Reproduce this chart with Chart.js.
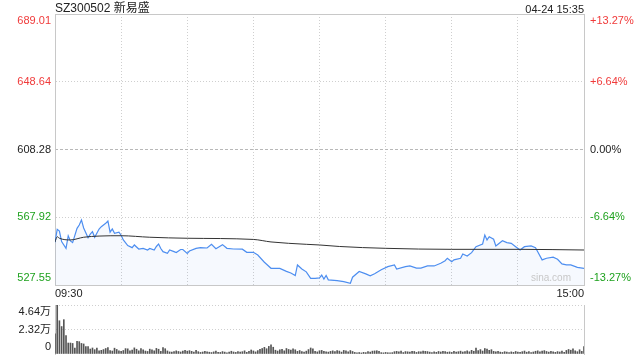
<!DOCTYPE html>
<html><head><meta charset="utf-8">
<script src="https://cdn.jsdelivr.net/npm/chart.js@4/dist/chart.umd.min.js"></script>
<style>
html,body{margin:0;padding:0;background:#fff;width:640px;height:360px;overflow:hidden;font-family:'Liberation Sans','Noto Sans CJK SC',sans-serif;}
#wrap{position:relative;width:640px;height:360px;}
#pc{position:absolute;left:0;top:0;}
#vc{position:absolute;left:0;top:300px;}
.title{position:absolute;left:55px;top:0px;font-size:12px;color:#222;line-height:16px;white-space:nowrap;}
.time{position:absolute;right:56px;top:1px;font-size:11px;color:#222;line-height:16px;white-space:nowrap;}
.wm{position:absolute;left:531px;top:272px;font-size:10px;color:#c8c8c8;line-height:12px;}
</style></head>
<body><div id="wrap">
<canvas id="pc" width="640" height="300"></canvas>
<canvas id="vc" width="640" height="60"></canvas>
<div class="title">SZ300502 新易盛</div>
<div class="time">04-24 15:35</div>
<div class="wm">sina.com</div>
</div>
<script>
const prevClose = 608.28;
const priceTicks = [527.55, 567.92, 608.28, 648.64, 689.01];
const priceTickLabels = ['527.55', '567.92', '608.28', '648.64', '689.01'];
const pctTickLabels = ['-13.27%', '-6.64%', '0.00%', '+6.64%', '+13.27%'];
const timeTicks = [0, 30, 60, 90, 120, 150, 180, 210, 240];
const timeTickLabels = ['09:30', '', '', '', '', '', '', '', '15:00'];
const volTicks = [0, 23200, 46400];
const volTickLabels = ['0', '2.32万', '4.64万'];

const priceMinutes = [0,1,2,3,5,6,7,8,10,11,12,13,15,16,17,18,20,21,23,24,25,26,27,29,30,31,33,35,36,38,40,42,43,45,46,47,48,49,51,52,54,55,57,58,60,61,64,66,69,71,73,76,78,81,85,87,90,92,95,96,98,102,105,107,109,110,112,114,116,118,120,121,122,123,124,128,131,134,135,138,141,143,145,148,151,154,155,159,161,164,166,169,172,175,177,178,180,181,184,185,187,189,191,194,195,196,197,199,200,203,205,207,209,211,213,216,218,219,221,223,226,228,230,232,234,237,240];
const prices = [553.0,560.7,559.7,553.4,549.4,556.9,553.8,552.8,561.3,563.3,566.3,561.5,555.7,557.8,559.3,556.0,560.9,562.3,564.3,565.7,559.0,560.9,558.4,559.0,557.2,554.4,551.0,549.8,551.4,549.0,549.4,548.4,549.3,548.4,550.5,552.0,549.3,547.4,546.4,548.4,547.4,546.9,548.7,548.7,546.4,547.8,549.4,549.8,549.6,551.8,549.2,551.6,549.4,549.0,548.9,547.0,547.0,545.4,541.1,539.9,537.5,537.4,535.7,534.7,533.2,539.5,537.1,535.4,531.5,531.5,531.8,533.5,531.1,533.2,530.6,530.2,529.6,528.6,532.2,535.6,534.2,533.0,534.2,536.6,538.5,539.5,537.0,538.5,538.9,537.6,537.6,538.9,538.9,540.5,542.0,543.5,541.4,542.5,543.5,546.0,544.8,546.8,550.4,552.0,557.3,554.4,556.3,554.8,550.8,553.9,552.8,552.4,550.4,548.4,550.4,550.8,549.8,547.4,542.5,543.5,544.1,542.9,540.1,539.5,539.5,538.1,537.5];

const avgMinutes = [0,1,2,7,13,20,30,43,60,90,98,114,120,129,150,180,211,240];
const avgPrices = [553.2,556.3,555.4,554.4,556.0,556.7,556.9,556.0,555.4,554.7,553.2,551.8,551.4,550.5,549.4,548.8,548.8,548.4];

const volumes = [
19000,46400,31500,26000,32500,17400,10400,10400,10000,5700,
12000,11700,10000,9500,7000,7000,4700,5700,4100,5700,
3000,3500,4200,5200,6000,3200,2800,5500,4300,3000,
2600,3300,5100,4900,3000,3800,5800,4500,3000,5200,
4000,2800,2400,4600,3900,3000,5300,4500,2500,6000,
5000,2900,2000,1800,2200,3000,2400,1900,2800,3400,
2700,3200,2500,1800,3500,2200,1500,1900,2600,2100,
1700,1400,2000,2800,1600,1500,2300,1800,1200,1700,
2600,1900,1500,2400,1800,2200,3000,1600,2500,3800,
2900,2000,3200,4500,5200,6300,5000,7200,8800,6400,
3600,2800,4000,4500,3000,5200,4300,3600,4800,4000,
2500,3300,2200,1800,2700,4200,5700,4800,2600,2000,
3100,3400,2600,2000,1800,2500,3000,2200,3200,2800,
1800,3400,2900,2000,3300,2400,1500,1200,1400,1000,
1600,1300,2300,1800,2700,2900,3100,2600,1300,1100,
1500,1200,1000,1300,2200,2500,2100,2800,1400,2300,
2100,1800,2600,2400,1500,2200,2000,2800,2500,2300,
1800,1300,2100,1600,2400,1900,2600,2200,1700,2000,
1500,2500,1800,2200,2700,1900,2400,3000,2100,3500,
2600,5700,3200,4200,2800,5200,4600,3500,4100,2500,
2000,2600,1800,1500,2200,1700,1400,2000,1600,2400,
1900,1500,2200,2800,1700,2300,1400,1900,2600,3000,
2100,2800,3200,2400,1800,2500,2000,1600,2300,1900,
2700,1500,3400,4300,3600,4800,3000,2200,4000,2500,
7000];

const RED = '#f03a3a', GREEN = '#1fa21f', DARK = '#222', GRID = '#cfcfcf', FRAME = '#c8c8c8';
const FONT = {family: "'Liberation Sans','Noto Sans CJK SC',sans-serif", size: 11};

function edgeLabel(text, index, count) {
  if (index === 0) return [text, ''];
  if (index === count - 1) return ['', text];
  return text;
}
function tickColor(v) {
  if (v > prevClose + 0.001) return RED;
  if (v < prevClose - 0.001) return GREEN;
  return DARK;
}
function fixW(w) {
  return s => { s.width = w; s.paddingTop = 0; s.paddingBottom = 0; };
}

const pricePts = priceMinutes.map((m, i) => ({x: m, y: prices[i]}));
const avgPts = avgMinutes.map((m, i) => ({x: m, y: avgPrices[i]}));

new Chart(document.getElementById('pc'), {
  type: 'line',
  data: {datasets: [
    {data: avgPts, borderColor: '#333', borderWidth: 1, pointRadius: 0, fill: false, cubicInterpolationMode: 'monotone'},
    {data: pricePts, borderColor: '#4d8ef0', borderWidth: 1.2, pointRadius: 0, tension: 0,
     fill: 'start', backgroundColor: 'rgba(80,140,235,0.05)'}
  ]},
  options: {
    responsive: false, animation: false, events: [],
    layout: {padding: {top: 14, left: 0, right: 0, bottom: 0}},
    plugins: {legend: {display: false}, tooltip: {enabled: false}, title: {display: false}},
    scales: {
      x: {type: 'linear', position: 'bottom', min: 0, max: 240,
        afterBuildTicks: s => { s.ticks = timeTicks.map(v => ({value: v})); },
        afterFit: s => { s.height = 15; s.paddingLeft = 0; s.paddingRight = 0; },
        ticks: {autoSkip: false, maxRotation: 0, align: 'inner', padding: 2, color: DARK, font: FONT,
          callback: (v, i) => timeTickLabels[i]},
        grid: {drawTicks: false, lineWidth: 1,
          color: c => (c.tick && (c.tick.value === 0 || c.tick.value === 240)) ? 'rgba(0,0,0,0)' : GRID},
        border: {display: true, color: FRAME, dash: [1, 2]}
      },
      xTop: {type: 'linear', position: 'top', min: 0, max: 240,
        afterFit: s => { s.height = 0; },
        ticks: {display: false}, grid: {display: false},
        border: {display: true, color: FRAME}
      },
      y: {type: 'linear', position: 'left', min: 527.55, max: 689.01,
        afterBuildTicks: s => { s.ticks = priceTicks.map(v => ({value: v})); },
        afterFit: fixW(55),
        ticks: {autoSkip: false, padding: 4, font: FONT, color: c => tickColor(c.tick.value),
          callback: (v, i, t) => edgeLabel(priceTickLabels[i], i, t.length)},
        grid: {drawTicks: false,
          color: c => { const v = c.tick ? c.tick.value : 0; return (v === 527.55 || v === 689.01 || v === 608.28) ? 'rgba(0,0,0,0)' : GRID; }},
        border: {display: true, color: FRAME, dash: [1, 2]}
      },
      yR: {type: 'linear', position: 'right', min: 527.55, max: 689.01,
        afterBuildTicks: s => { s.ticks = priceTicks.map(v => ({value: v})); },
        afterFit: fixW(56),
        ticks: {autoSkip: false, padding: 6, font: FONT, color: c => tickColor(c.tick.value),
          callback: (v, i, t) => edgeLabel(pctTickLabels[i], i, t.length)},
        grid: {drawTicks: false,
          color: c => (c.tick && c.tick.value === 608.28) ? '#b8b8b8' : 'rgba(0,0,0,0)'},
        border: {display: true, color: FRAME, dash: [3, 2]}
      }
    }
  }
});

new Chart(document.getElementById('vc'), {
  type: 'bar',
  data: {datasets: [{data: volumes.map((v, i) => ({x: i, y: v})), backgroundColor: '#555', barThickness: 1, borderWidth: 0}]},
  options: {
    responsive: false, animation: false, events: [],
    layout: {padding: {top: 5, left: 0, right: 0, bottom: 6}},
    plugins: {legend: {display: false}, tooltip: {enabled: false}},
    scales: {
      x: {type: 'linear', min: 0, max: 240, offset: false, display: false},
      y: {type: 'linear', position: 'left', min: 0, max: 46400,
        afterBuildTicks: s => { s.ticks = volTicks.map(v => ({value: v})); },
        afterFit: fixW(55),
        ticks: {autoSkip: false, padding: 4, font: FONT, color: DARK,
          callback: (v, i, t) => edgeLabel(volTickLabels[i], i, t.length)},
        grid: {drawTicks: false, color: c => (c.tick && c.tick.value === 0) ? 'rgba(0,0,0,0)' : GRID},
        border: {display: true, color: FRAME, dash: [1, 2]}
      },
      yR: {type: 'linear', position: 'right', min: 0, max: 46400,
        afterFit: fixW(56),
        ticks: {display: false}, grid: {display: false},
        border: {display: true, color: FRAME}
      }
    }
  }
});
</script>
</body></html>
